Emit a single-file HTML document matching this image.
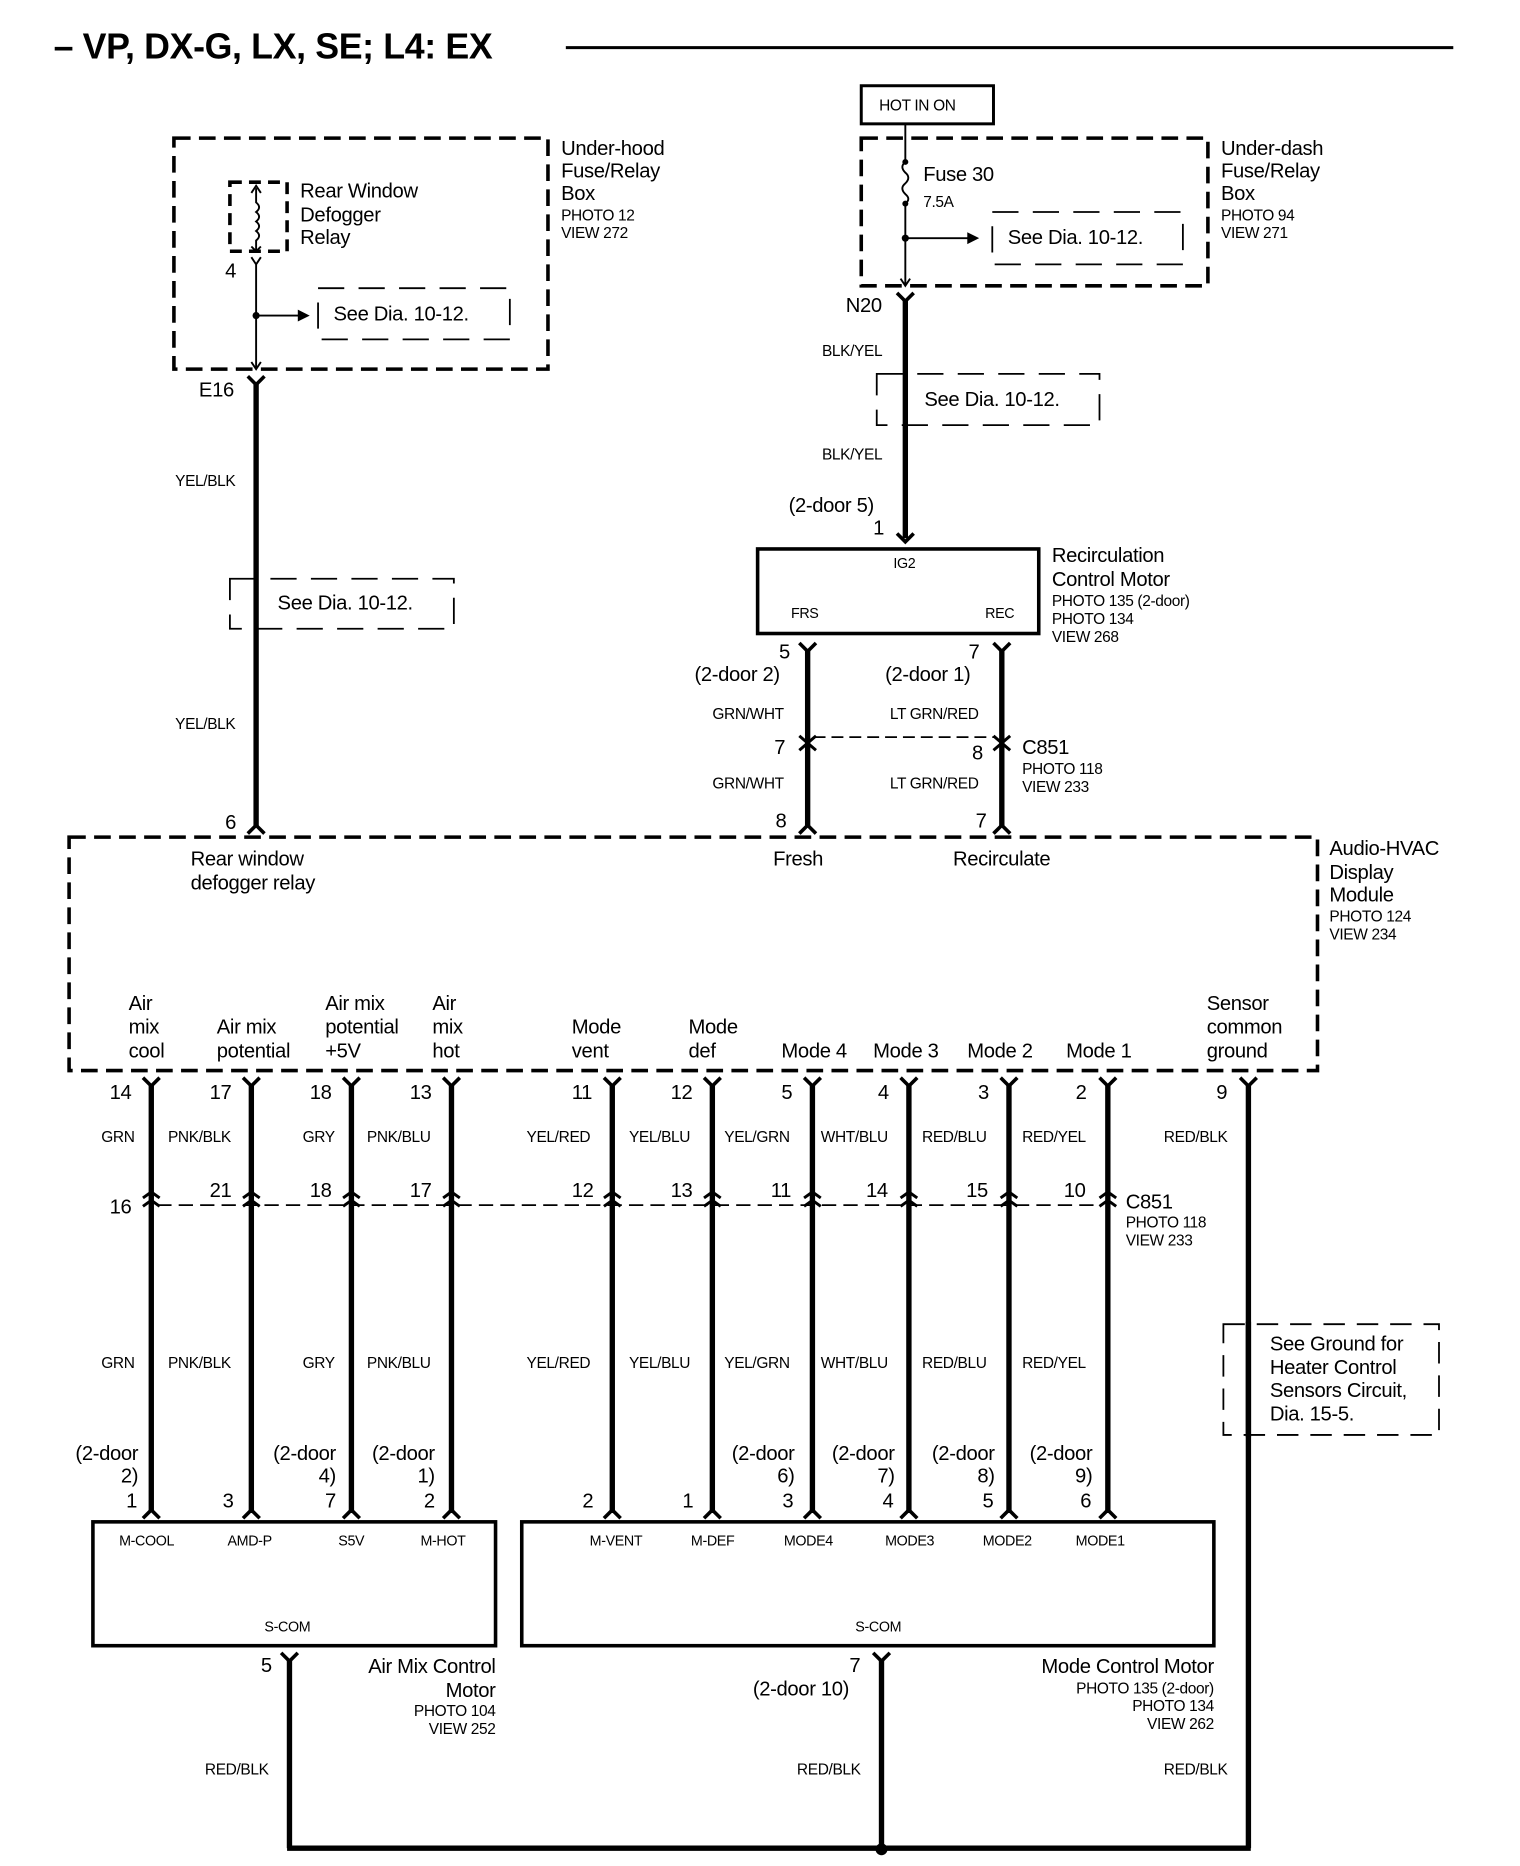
<!DOCTYPE html>
<html><head><meta charset="utf-8"><style>
html,body{margin:0;padding:0;background:#fff}
svg{display:block}
text{font-family:"Liberation Sans",sans-serif;fill:#000;letter-spacing:-0.3px}
.l{font-size:17px}.s{font-size:13px}.xs{font-size:12px}
.w{stroke:#000;stroke-width:4.5;fill:none}
.t{stroke:#000;stroke-width:1.6;fill:none}
.d{stroke:#000;stroke-width:3;fill:none;stroke-dasharray:14 7}
.dt{stroke:#000;stroke-width:1.5;fill:none;stroke-dasharray:22 12}
.c{stroke:#000;stroke-width:3;fill:none}
.b{stroke:#000;stroke-width:3;fill:none}
</style></head><body>
<svg width="1520" height="1866" viewBox="0 0 1276 1567" preserveAspectRatio="none" xmlns="http://www.w3.org/2000/svg">
<text x="45" y="49" style="font-size:30px;font-weight:bold">– VP, DX-G, LX, SE; L4: EX</text>
<line x1="475" y1="40" x2="1220" y2="40" stroke="#000" stroke-width="2.5"/>

<!-- Under-hood box -->
<rect x="146" y="116" width="314" height="194" class="d"/>
<rect x="193" y="153" width="48" height="58" class="d" style="stroke-dasharray:10 6"/>
<path class="t" d="M215 158 V170 q5 4 0 8 q5 4 0 8 q5 4 0 8 q5 4 0 8 V211"/>
<path class="t" d="M211 162 L215 156 L219 162 M211 207 L215 211 L219 207"/>
<text x="252" y="166" class="l">Rear Window</text>
<text x="252" y="186" class="l">Defogger</text>
<text x="252" y="205" class="l">Relay</text>
<text x="471" y="130" class="l">Under-hood</text>
<text x="471" y="149" class="l">Fuse/Relay</text>
<text x="471" y="168" class="l">Box</text>
<text x="471" y="185" class="s">PHOTO 12</text>
<text x="471" y="200" class="s">VIEW 272</text>
<path class="t" d="M211 216 L215 222 L219 216 M215 222 V310 M211 304 L215 310 L219 304"/>
<text x="189" y="233" class="l">4</text>
<circle cx="215" cy="265" r="3"/>
<path class="t" d="M215 265 H252"/><path d="M250 260 L260 265 L250 270Z"/>
<rect x="267" y="242" width="161" height="43" class="dt"/>
<text x="280" y="269" class="l">See Dia. 10-12.</text>
<text x="167" y="333" class="l">E16</text>
<path class="c" d="M208 316 L215 323 L222 316"/>
<line x1="215" y1="321" x2="215" y2="694" class="w"/>
<text x="147" y="408" class="s">YEL/BLK</text>
<rect x="193" y="486" width="188" height="42" class="dt"/>
<text x="233" y="512" class="l">See Dia. 10-12.</text>
<text x="147" y="612" class="s">YEL/BLK</text>
<text x="189" y="696" class="l">6</text>
<path class="c" d="M208 700 L215 693 L222 700"/>

<!-- Right top -->
<rect x="723" y="72" width="111" height="32" class="b" style="stroke-width:2.5"/>
<text x="738" y="93" class="s">HOT IN ON</text>
<rect x="723" y="116" width="291" height="124" class="d"/>
<path class="t" d="M760 104 V136 q-5 4 0 9 q5 4 0 9 q-5 4 0 9 q5 4 0 8 V240 M756 234 L760 240 L764 234"/>
<circle cx="760" cy="136" r="2.5"/><circle cx="760" cy="171" r="2.5"/><circle cx="760" cy="200" r="3"/>
<text x="775" y="152" class="l">Fuse 30</text>
<text x="775" y="174" class="s">7.5A</text>
<path class="t" d="M760 200 H815"/><path d="M812 195 L822 200 L812 205Z"/>
<rect x="833" y="178" width="160" height="44" class="dt"/>
<text x="846" y="205" class="l">See Dia. 10-12.</text>
<text x="1025" y="130" class="l">Under-dash</text>
<text x="1025" y="149" class="l">Fuse/Relay</text>
<text x="1025" y="168" class="l">Box</text>
<text x="1025" y="185" class="s">PHOTO 94</text>
<text x="1025" y="200" class="s">VIEW 271</text>
<text x="710" y="262" class="l">N20</text>
<path class="c" d="M753 246 L760 253 L767 246"/>
<line x1="760" y1="251" x2="760" y2="452" class="w"/>
<text x="690" y="299" class="s">BLK/YEL</text>
<rect x="736" y="314" width="187" height="43" class="dt"/>
<text x="776" y="341" class="l">See Dia. 10-12.</text>
<text x="690" y="386" class="s">BLK/YEL</text>
<text x="662" y="430" class="l">(2-door 5)</text>
<text x="733" y="449" class="l">1</text>
<path class="c" d="M753 448 L760 455 L767 448"/>
<rect x="636" y="461" width="236" height="71" class="b"/>
<text x="750" y="477" class="xs">IG2</text>
<text x="664" y="519" class="xs">FRS</text>
<text x="827" y="519" class="xs">REC</text>
<text x="883" y="472" class="l">Recirculation</text>
<text x="883" y="492" class="l">Control Motor</text>
<text x="883" y="509" class="s">PHOTO 135 (2-door)</text>
<text x="883" y="524" class="s">PHOTO 134</text>
<text x="883" y="539" class="s">VIEW 268</text>
<path class="c" d="M671 540 L678 547 L685 540 M834 540 L841 547 L848 540"/>
<line x1="678" y1="545" x2="678" y2="694" class="w"/>
<line x1="841" y1="545" x2="841" y2="694" class="w"/>
<text x="654" y="553" class="l">5</text>
<text x="583" y="572" class="l">(2-door 2)</text>
<text x="813" y="553" class="l">7</text>
<text x="743" y="572" class="l">(2-door 1)</text>
<text x="598" y="604" class="s">GRN/WHT</text>
<text x="747" y="604" class="s">LT GRN/RED</text>
<line x1="683" y1="619" x2="836" y2="619" class="dt" style="stroke-dasharray:10 5"/>
<path class="c" d="M671 618 L678 624 L685 618 M671 630 L678 624 L685 630 M834 618 L841 624 L848 618 M834 630 L841 624 L848 630" style="stroke-width:2.5"/>
<text x="650" y="633" class="l">7</text>
<text x="816" y="638" class="l">8</text>
<text x="858" y="633" class="l">C851</text>
<text x="858" y="650" class="s">PHOTO 118</text>
<text x="858" y="665" class="s">VIEW 233</text>
<text x="598" y="662" class="s">GRN/WHT</text>
<text x="747" y="662" class="s">LT GRN/RED</text>
<text x="651" y="695" class="l">8</text>
<text x="819" y="695" class="l">7</text>
<path class="c" d="M671 700 L678 693 L685 700 M834 700 L841 693 L848 700"/>

<!-- Module -->
<rect x="58" y="703" width="1048" height="196" class="d"/>
<text x="160" y="727" class="l">Rear window</text>
<text x="160" y="747" class="l">defogger relay</text>
<text x="649" y="727" class="l">Fresh</text>
<text x="800" y="727" class="l">Recirculate</text>
<text x="1116" y="718" class="l">Audio-HVAC</text>
<text x="1116" y="738" class="l">Display</text>
<text x="1116" y="757" class="l">Module</text>
<text x="1116" y="774" class="s">PHOTO 124</text>
<text x="1116" y="789" class="s">VIEW 234</text>
<g class="l">
<text x="108" y="848">Air</text><text x="108" y="868">mix</text><text x="108" y="888">cool</text>
<text x="182" y="868">Air mix</text><text x="182" y="888">potential</text>
<text x="273" y="848">Air mix</text><text x="273" y="868">potential</text><text x="273" y="888">+5V</text>
<text x="363" y="848">Air</text><text x="363" y="868">mix</text><text x="363" y="888">hot</text>
<text x="480" y="868">Mode</text><text x="480" y="888">vent</text>
<text x="578" y="868">Mode</text><text x="578" y="888">def</text>
<text x="656" y="888">Mode 4</text><text x="733" y="888">Mode 3</text>
<text x="812" y="888">Mode 2</text><text x="895" y="888">Mode 1</text>
<text x="1013" y="848">Sensor</text><text x="1013" y="868">common</text><text x="1013" y="888">ground</text>
</g>

<!-- 11 wires -->
<g class="w">
<line x1="127" y1="910" x2="127" y2="1269"/><line x1="211" y1="910" x2="211" y2="1269"/>
<line x1="295" y1="910" x2="295" y2="1269"/><line x1="379" y1="910" x2="379" y2="1269"/>
<line x1="514" y1="910" x2="514" y2="1269"/><line x1="598" y1="910" x2="598" y2="1269"/>
<line x1="682" y1="910" x2="682" y2="1269"/><line x1="763" y1="910" x2="763" y2="1269"/>
<line x1="847" y1="910" x2="847" y2="1269"/><line x1="930" y1="910" x2="930" y2="1269"/>
<line x1="1048" y1="910" x2="1048" y2="1552"/>
<line x1="243" y1="1393" x2="243" y2="1552"/><line x1="740" y1="1393" x2="740" y2="1552"/>
<line x1="241" y1="1552" x2="1050" y2="1552"/>
</g>
<circle cx="740" cy="1553" r="5"/>
<g class="c">
<path d="M120 905 L127 912 L134 905 M204 905 L211 912 L218 905 M288 905 L295 912 L302 905 M372 905 L379 912 L386 905 M507 905 L514 912 L521 905 M591 905 L598 912 L605 905 M675 905 L682 912 L689 905 M756 905 L763 912 L770 905 M840 905 L847 912 L854 905 M923 905 L930 912 L937 905 M1041 905 L1048 912 L1055 905"/>
<path d="M120 1275 L127 1268 L134 1275 M204 1275 L211 1268 L218 1275 M288 1275 L295 1268 L302 1275 M372 1275 L379 1268 L386 1275 M507 1275 L514 1268 L521 1275 M591 1275 L598 1268 L605 1275 M675 1275 L682 1268 L689 1275 M756 1275 L763 1268 L770 1275 M840 1275 L847 1268 L854 1275 M923 1275 L930 1268 L937 1275"/>
<path d="M236 1388 L243 1395 L250 1388 M733 1388 L740 1395 L747 1388"/>
<path style="stroke-width:2.5" d="M120 1006 L127 1001 L134 1006 M120 1013 L127 1008 L134 1013 M204 1006 L211 1001 L218 1006 M204 1013 L211 1008 L218 1013 M288 1006 L295 1001 L302 1006 M288 1013 L295 1008 L302 1013 M372 1006 L379 1001 L386 1006 M372 1013 L379 1008 L386 1013 M507 1006 L514 1001 L521 1006 M507 1013 L514 1008 L521 1013 M591 1006 L598 1001 L605 1006 M591 1013 L598 1008 L605 1013 M675 1006 L682 1001 L689 1006 M675 1013 L682 1008 L689 1013 M756 1006 L763 1001 L770 1006 M756 1013 L763 1008 L770 1013 M840 1006 L847 1001 L854 1006 M840 1013 L847 1008 L854 1013 M923 1006 L930 1001 L937 1006 M923 1013 L930 1008 L937 1013"/>
</g>
<line x1="132" y1="1012" x2="925" y2="1012" class="dt" style="stroke-dasharray:12 6"/>
<g class="l">
<text x="92" y="923">14</text><text x="176" y="923">17</text><text x="260" y="923">18</text><text x="344" y="923">13</text>
<text x="480" y="923">11</text><text x="563" y="923">12</text><text x="656" y="923">5</text><text x="737" y="923">4</text>
<text x="821" y="923">3</text><text x="903" y="923">2</text><text x="1021" y="923">9</text>
<text x="92" y="1019">16</text><text x="176" y="1005">21</text><text x="260" y="1005">18</text><text x="344" y="1005">17</text>
<text x="480" y="1005">12</text><text x="563" y="1005">13</text><text x="647" y="1005">11</text><text x="727" y="1005">14</text>
<text x="811" y="1005">15</text><text x="893" y="1005">10</text>
<text x="945" y="1015">C851</text>
</g>
<text x="945" y="1031" class="s">PHOTO 118</text>
<text x="945" y="1046" class="s">VIEW 233</text>
<g class="s">
<text x="85" y="959">GRN</text><text x="141" y="959">PNK/BLK</text><text x="254" y="959">GRY</text><text x="308" y="959">PNK/BLU</text>
<text x="442" y="959">YEL/RED</text><text x="528" y="959">YEL/BLU</text><text x="608" y="959">YEL/GRN</text><text x="689" y="959">WHT/BLU</text>
<text x="774" y="959">RED/BLU</text><text x="858" y="959">RED/YEL</text><text x="977" y="959">RED/BLK</text>
<text x="85" y="1149">GRN</text><text x="141" y="1149">PNK/BLK</text><text x="254" y="1149">GRY</text><text x="308" y="1149">PNK/BLU</text>
<text x="442" y="1149">YEL/RED</text><text x="528" y="1149">YEL/BLU</text><text x="608" y="1149">YEL/GRN</text><text x="689" y="1149">WHT/BLU</text>
<text x="774" y="1149">RED/BLU</text><text x="858" y="1149">RED/YEL</text>
<text x="172" y="1490">RED/BLK</text><text x="669" y="1490">RED/BLK</text><text x="977" y="1490">RED/BLK</text>
</g>
<rect x="1027" y="1112" width="181" height="93" class="dt" style="stroke-dasharray:18 10"/>
<line x1="1048" y1="1110" x2="1048" y2="1207" class="w"/>
<g class="l">
<text x="1066" y="1134">See Ground for</text><text x="1066" y="1154">Heater  Control</text>
<text x="1066" y="1173">Sensors Circuit,</text><text x="1066" y="1193">Dia. 15-5.</text>
</g>
<g class="l" text-anchor="end">
<text x="116" y="1226">(2-door</text><text x="116" y="1245">2)</text><text x="115" y="1266">1</text>
<text x="196" y="1266">3</text>
<text x="282" y="1226">(2-door</text><text x="282" y="1245">4)</text><text x="282" y="1266">7</text>
<text x="365" y="1226">(2-door</text><text x="365" y="1245">1)</text><text x="365" y="1266">2</text>
<text x="498" y="1266">2</text><text x="582" y="1266">1</text>
<text x="667" y="1226">(2-door</text><text x="667" y="1245">6)</text><text x="666" y="1266">3</text>
<text x="751" y="1226">(2-door</text><text x="751" y="1245">7)</text><text x="750" y="1266">4</text>
<text x="835" y="1226">(2-door</text><text x="835" y="1245">8)</text><text x="834" y="1266">5</text>
<text x="917" y="1226">(2-door</text><text x="917" y="1245">9)</text><text x="916" y="1266">6</text>
</g>
<rect x="78" y="1278" width="338" height="104" class="b"/>
<rect x="438" y="1278" width="581" height="104" class="b"/>
<g class="xs">
<text x="100" y="1298">M-COOL</text><text x="191" y="1298">AMD-P</text><text x="284" y="1298">S5V</text><text x="353" y="1298">M-HOT</text>
<text x="222" y="1370">S-COM</text>
<text x="495" y="1298">M-VENT</text><text x="580" y="1298">M-DEF</text><text x="658" y="1298">MODE4</text><text x="743" y="1298">MODE3</text>
<text x="825" y="1298">MODE2</text><text x="903" y="1298">MODE1</text><text x="718" y="1370">S-COM</text>
</g>
<text x="219" y="1404" class="l">5</text>
<text x="713" y="1404" class="l">7</text>
<text x="632" y="1424" class="l">(2-door 10)</text>
<g text-anchor="end">
<text x="416" y="1405" class="l">Air Mix Control</text><text x="416" y="1425" class="l">Motor</text>
<text x="416" y="1441" class="s">PHOTO 104</text><text x="416" y="1456" class="s">VIEW 252</text>
<text x="1019" y="1405" class="l">Mode Control Motor</text>
<text x="1019" y="1422" class="s">PHOTO 135 (2-door)</text><text x="1019" y="1437" class="s">PHOTO 134</text><text x="1019" y="1452" class="s">VIEW 262</text>
</g>
</svg>
</body></html>
